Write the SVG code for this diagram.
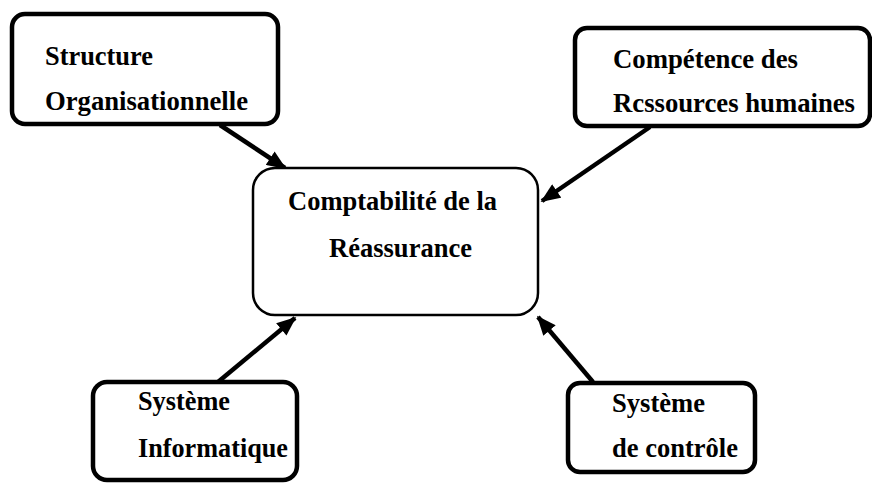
<svg xmlns="http://www.w3.org/2000/svg" width="872" height="485" viewBox="0 0 872 485">
<style>
.box{fill:#fff;stroke:#000;stroke-width:4.5}
.center{fill:#fff;stroke:#000;stroke-width:2.5}
.t{font-family:"Liberation Serif","Times New Roman",serif;font-weight:bold;font-size:26.5px;fill:#000}
.c{stroke:#000;stroke-width:4.5;fill:none;marker-end:url(#ah)}
</style>
<defs>
<marker id="ah" viewBox="0 0 12 10" refX="11" refY="5" markerWidth="4.4" markerHeight="3.6" orient="auto" markerUnits="strokeWidth">
<path d="M0,0 L12,5 L0,10 z" fill="#000"/>
</marker>
</defs>
<rect width="872" height="485" fill="#fff"/>
<g id="connectors">
<line class="c" x1="220" y1="125" x2="285" y2="168"/>
<line class="c" x1="650" y1="127" x2="542" y2="201"/>
<line class="c" x1="218" y1="382" x2="295" y2="318"/>
<line class="c" x1="593" y1="382" x2="538" y2="317"/>
</g>
<g id="center">
<rect class="center" x="253" y="168" width="285" height="147" rx="22"/>
<text class="t" x="288" y="210" textLength="209" lengthAdjust="spacingAndGlyphs">Comptabilité de la</text>
<text class="t" x="329" y="257" textLength="143" lengthAdjust="spacingAndGlyphs">Réassurance</text>
</g>
<g id="structure">
<rect class="box" x="12" y="14" width="266" height="110" rx="13"/>
<text class="t" x="45" y="65" textLength="108" lengthAdjust="spacingAndGlyphs">Structure</text>
<text class="t" x="45" y="110" textLength="203" lengthAdjust="spacingAndGlyphs">Organisationnelle</text>
</g>
<g id="competence">
<rect class="box" x="575" y="28" width="295" height="98" rx="12"/>
<text class="t" x="613" y="68" textLength="185" lengthAdjust="spacingAndGlyphs">Compétence des</text>
<text class="t" x="613" y="112" textLength="242" lengthAdjust="spacingAndGlyphs">Rcssources humaines</text>
</g>
<g id="informatique">
<rect class="box" x="93" y="382" width="204" height="98" rx="14"/>
<text class="t" x="138" y="410" textLength="92" lengthAdjust="spacingAndGlyphs">Système</text>
<text class="t" x="138" y="457" textLength="150" lengthAdjust="spacingAndGlyphs">Informatique</text>
</g>
<g id="controle">
<rect class="box" x="568" y="383" width="187" height="89" rx="12"/>
<text class="t" x="612" y="412" textLength="93" lengthAdjust="spacingAndGlyphs">Système</text>
<text class="t" x="612" y="457" textLength="126" lengthAdjust="spacingAndGlyphs">de contrôle</text>
</g>
</svg>
